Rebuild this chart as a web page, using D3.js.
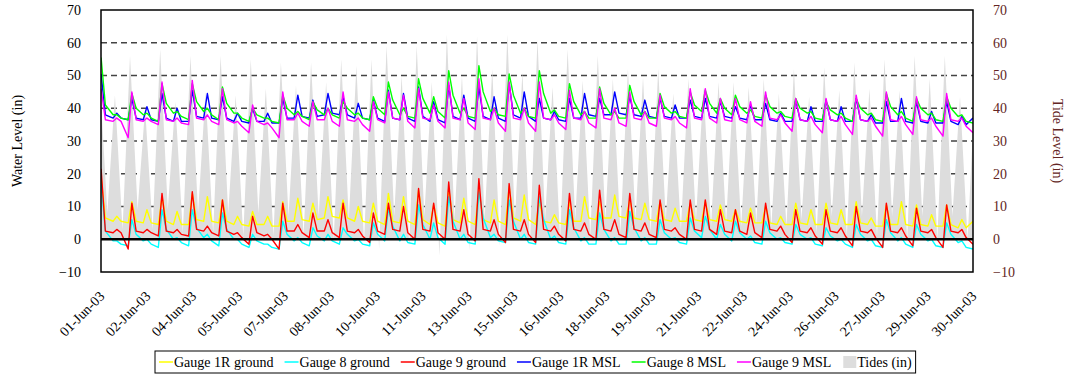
<!DOCTYPE html>
<html>
<head>
<meta charset="utf-8">
<script src="https://cdn.jsdelivr.net/npm/d3@7"></script>
<style>
    html, body { margin: 0; padding: 0; background: #fff; }
    svg, svg text { font-family: "Liberation Serif", "Times New Roman", serif; }
</style>
</head>
<body>
<svg id="chart" width="1068" height="376"></svg>
<script>
// All times are hours after 01-Jun-03 00:00
const xDomainHours = [1.43, 712.8];
const xTickLabels = ["01-Jun-03", "02-Jun-03", "04-Jun-03", "05-Jun-03", "07-Jun-03", "08-Jun-03",
    "10-Jun-03", "11-Jun-03", "13-Jun-03", "15-Jun-03", "16-Jun-03", "18-Jun-03", "19-Jun-03",
    "21-Jun-03", "22-Jun-03", "24-Jun-03", "26-Jun-03", "27-Jun-03", "29-Jun-03", "30-Jun-03"];
const yTicks = [-10, 0, 10, 20, 30, 40, 50, 60, 70];

const tideHours = [1.5, 6.6,
    12.8, 19.0, 25.1, 31.3, 37.4, 43.6, 49.7, 55.9, 62.0, 68.2, 74.4, 80.6, 86.7, 92.9,
    99.0, 105.2, 111.3, 117.5, 123.6, 129.8, 135.9, 142.1, 148.2, 154.4, 160.5, 166.7,
    172.8, 179.0, 185.1, 191.3, 197.4, 203.6, 209.8, 216.0, 222.1, 228.3, 234.4, 240.6,
    246.7, 252.9, 259.0, 265.2, 271.3, 277.5, 283.6, 289.8, 295.9, 302.1, 308.2, 314.4,
    320.6, 326.8, 332.9, 339.1, 345.2, 351.4, 357.5, 363.7, 369.8, 376.0, 382.1, 388.3,
    394.4, 400.6, 406.7, 412.9, 419.0, 425.2, 431.3, 437.5, 443.6, 449.8, 456.0, 462.2,
    468.3, 474.5, 480.6, 486.8, 492.9, 499.1, 505.2, 511.4, 517.5, 523.7, 529.8, 536.0,
    542.1, 548.3, 554.4, 560.6, 566.7, 572.9, 579.1, 585.3, 591.4, 597.6, 603.7, 609.9,
    616.0, 622.2, 628.3, 634.5, 640.6, 646.8, 652.9, 659.1, 665.2, 671.4, 677.5, 683.7,
    689.8, 696.0, 702.2, 708.4, 714.5];
const tideLevels = [42, 8,
    44, 3, 56, 9, 40, 3, 58, 9, 42, 2, 56, 8, 45, 2,
    56, 8, 44, 1, 55, 8, 46, 1, 54, 7, 47, 1,
    54, 7, 48, 0, 55, 6, 53, -1, 55, -3, 59, 7,
    50, -2, 59, 7, 48, -5, 62.5, 6, 50, -3.5, 62, 6,
    52, -2, 62.5, 6, 51, -1, 61, 6, 46.5, 0, 58, 6,
    48.5, 1, 56, 6, 49, 2, 52, 6, 49.5, 2, 52, 6,
    44.5, 3, 49, 6, 46.5, 4, 48, 5, 48, 4, 46.5, 5,
    49, 4, 44.5, 4, 52, 6, 43.5, 2, 52.5, 7, 45.5, 1,
    54, 7, 46, 1, 55, 7, 45.5, 0, 56, 7, 49, 0,
    56, 7, 43.5, 0, 47];

const gaugeHours = [1.5, 5.0,
    11.3, 14.3, 17.8, 23.6, 26.6, 30.1, 35.9, 38.9, 42.4, 48.2, 51.2, 54.7,
    60.5, 63.5, 67.0, 72.9, 75.9, 79.4, 85.2, 88.2, 91.7, 97.5, 100.5, 104.0,
    109.8, 112.8, 116.3, 122.1, 125.1, 128.6, 134.4, 137.4, 140.9, 146.7, 149.7, 153.2,
    159.0, 162.0, 165.5, 171.3, 174.3, 177.8, 183.6, 186.6, 190.1, 195.9, 198.9, 202.4,
    208.3, 211.3, 214.8, 220.6, 223.6, 227.1, 232.9, 235.9, 239.4, 245.2, 248.2, 251.7,
    257.5, 260.5, 264.0, 269.8, 272.8, 276.3, 282.1, 285.1, 288.6, 294.4, 297.4, 300.9,
    306.7, 309.7, 313.2, 319.1, 322.1, 325.6, 331.4, 334.4, 337.9, 343.7, 346.7, 350.2,
    356.0, 359.0, 362.5, 368.3, 371.3, 374.8, 380.6, 383.6, 387.1, 392.9, 395.9, 399.4,
    405.2, 408.2, 411.7, 417.5, 420.5, 424.0, 429.8, 432.8, 436.3, 442.1, 445.1, 448.6,
    454.5, 457.5, 461.0, 466.8, 469.8, 473.3, 479.1, 482.1, 485.6, 491.4, 494.4, 497.9,
    503.7, 506.7, 510.2, 516.0, 519.0, 522.5, 528.3, 531.3, 534.8, 540.6, 543.6, 547.1,
    552.9, 555.9, 559.4, 565.2, 568.2, 571.7, 577.6, 580.6, 584.1, 589.9, 592.9, 596.4,
    602.2, 605.2, 608.7, 614.5, 617.5, 621.0, 626.8, 629.8, 633.3, 639.1, 642.1, 645.6,
    651.4, 654.4, 657.9, 663.7, 666.7, 670.2, 676.0, 679.0, 682.5, 688.3, 691.3, 694.8,
    700.7, 703.7, 707.2, 712.8];

const gauge1RGround = [19, 6.5,
    5.5, 7, 5.5, 5, 11.5, 5.5, 5, 9, 5, 4.5, 13, 5.5,
    4.5, 8.5, 4.5, 4.5, 14, 6, 5.5, 13, 5.5, 5, 12, 5.5,
    4.5, 7, 4.5, 4, 8.5, 4.5, 4.5, 7, 4, 4, 11.5, 5.5,
    5.5, 12.5, 6, 5.5, 11, 6, 6.5, 13, 7, 6.5, 12, 6.5,
    5.5, 10, 5.5, 5, 11, 5.5, 4.5, 14, 5.5, 5, 13, 5.5,
    4.5, 15, 6, 4.5, 10.5, 5, 4, 15.5, 6, 5, 12.5, 5.5,
    4.5, 15, 6, 5, 12, 5.5, 4.5, 16, 6.5, 5.5, 13.5, 6,
    4.5, 11.5, 5.5, 5, 7.5, 5, 4.5, 11.5, 5.5, 5.5, 13, 6.5,
    6, 11.5, 6.5, 6.5, 13.5, 7, 6.5, 12, 6.5, 6, 11, 6,
    5.5, 11.5, 6, 5.5, 9.5, 5.5, 5.5, 11, 6, 5.5, 11.5, 6,
    5.5, 10.5, 6, 5.5, 9, 5.5, 5, 9.5, 5, 5, 10, 5,
    4.5, 7, 4.5, 4.5, 11, 5, 4.5, 9, 4.5, 4.5, 11, 5,
    4.5, 9, 4.5, 4.5, 11.5, 5, 4.5, 6.5, 4, 4, 10.5, 4.5,
    4.5, 11.5, 4.5, 4, 10.5, 4.5, 4, 7.5, 4, 4, 10.5, 4.5,
    3.5, 6, 3.5, 5.5];

const gauge8Ground = [17, 2.5,
    -0.5, -0.5, -1.5, -2, 6, 1.5, -0.5, 0, -1.5, -2.5, 9, 3,
    0, 0.5, -1, -2, 9, 3.5, 0.5, 1.5, -0.5, -2, 8, 3,
    0, 0, -1.5, -2.5, 1.5, -0.5, -1.5, -1.5, -2.5, -3, 5.5, 1.5,
    -0.5, 0.5, -1, -2, 3.5, 1, -0.5, 1.5, -0.5, -1.5, 3.5, 1.5,
    -0.5, 0, -1.5, -2, 5, 1.5, -0.5, 9.5, 4, -0.5, 1.5, -1,
    -1.5, 10.5, 4.5, 0, 5, 0.5, -1.5, 13, 5.5, 0, 1.5, -1,
    -1.5, 14.5, 6.5, 0.5, 1.5, -0.5, -1, 12, 5.5, 0, 1.5, -1,
    -1.5, 13, 6, 0, 1, -1, -1.5, 9, 3.5, -0.5, 0.5, -1.5,
    -1.5, 8, 3, -0.5, 0.5, -1.5, -1.5, 8.5, 3.5, -0.5, 0.5, -1.5,
    -1.5, 6, 2, 0, 0.5, -1, -1.5, 6.5, 2.5, 0.5, 7, 3,
    0, 4.5, 1.5, -0.5, 5.5, 2, 0, 1, -1, -1.5, 5.5, 2,
    0, 0.5, -1, -1.5, 4.5, 1.5, 0, 0.5, -1.5, -2, 3.5, 1,
    -0.5, 0, -1.5, -2.5, 4.5, 1.5, -0.5, 0, -2, -2.5, 6, 2,
    -0.5, 0.5, -1.5, -2.5, 4.5, 1.5, -0.5, 0, -2, -2.5, 5, 1.5,
    -1, -0.5, -2.5, -3];

const gauge9Ground = [21.5, 2.5,
    2, 3, 2, -3, 11, 2.5, 2, 3, 2, 1, 14, 2.5,
    2, 3, 1.5, 1, 14.5, 3, 2.5, 4, 2, 1, 12, 2.5,
    1.5, 2, 0.5, -1.5, 7, 2, 1, 1.5, 0, -3, 11, 2.5,
    2.5, 4.5, 2, 0.5, 8, 2.5, 2.5, 6, 2, 0.5, 11, 2.5,
    2, 3, 1, -1, 8, 2.5, 1.5, 11, 3, 2.5, 10, 2,
    0, 15.5, 3, 2.5, 11, 2, 0, 17.5, 3, 2.5, 9, 1.5,
    -0.5, 18.5, 3, 2.5, 6, 1.5, -1, 17, 3, 2.5, 6, 1.5,
    -1, 16.5, 3, 2.5, 4, 1.5, -0.5, 14, 3, 2.5, 5, 1.5,
    0, 15, 3, 2.5, 6, 1.5, 0.5, 14, 3, 2.5, 5, 1.5,
    0.5, 12, 3, 2.5, 3.5, 1.5, 0, 12, 3, 2.5, 12, 3,
    1.5, 9, 2.5, 2, 9, 2.5, 1.5, 8, 2, 0.5, 11, 3,
    2.5, 4, 1.5, -1, 9, 2.5, 2, 3.5, 1, -1.5, 9, 2.5,
    2, 3.5, 1, -2, 10, 2.5, 2, 3, 0.5, -2.5, 11, 2.5,
    2, 3.5, 1, -2, 9.5, 2.5, 2, 3, 0.5, -2.5, 10.5, 2.5,
    2, 3, 0.5, -1.5];

const gauge1RMsl = [50.5, 38,
    37, 38.5, 37, 36.5, 43, 37, 36.5, 40.5, 36.5, 36, 44.5, 37,
    36, 40, 36, 36, 45.5, 37.5, 37, 44.5, 37, 36.5, 43.5, 37,
    36, 38.5, 36, 35.5, 40, 36, 36, 38.5, 35.5, 35.5, 43, 37,
    37, 44, 37.5, 37, 42.5, 37.5, 38, 44.5, 38.5, 38, 43.5, 38,
    37, 41.5, 37, 36.5, 42.5, 37, 36, 45.5, 37, 36.5, 44.5, 37,
    36, 46.5, 37.5, 36, 42, 36.5, 35.5, 47, 37.5, 36.5, 44, 37,
    36, 46.5, 37.5, 36.5, 43.5, 37, 36, 47.5, 38, 37, 45, 37.5,
    36, 43, 37, 36.5, 39, 36.5, 36, 43, 37, 37, 44.5, 38,
    37.5, 43, 38, 38, 45, 38.5, 38, 43.5, 38, 37.5, 42.5, 37.5,
    37, 43, 37.5, 37, 41, 37, 37, 42.5, 37.5, 37, 43, 37.5,
    37, 42, 37.5, 37, 40.5, 37, 36.5, 41, 36.5, 36.5, 41.5, 36.5,
    36, 38.5, 36, 36, 42.5, 36.5, 36, 40.5, 36, 36, 42.5, 36.5,
    36, 40.5, 36, 36, 43, 36.5, 36, 38, 35.5, 35.5, 42, 36,
    36, 43, 36, 35.5, 42, 36, 35.5, 39, 35.5, 35.5, 42, 36,
    35, 37.5, 35, 37];

const gauge8Msl = [55.5, 41,
    38, 38, 37, 36.5, 44.5, 40, 38, 38.5, 37, 36, 47.5, 41.5,
    38.5, 39, 37.5, 36.5, 47.5, 42, 39, 40, 38, 36.5, 46.5, 41.5,
    38.5, 38.5, 37, 36, 40, 38, 37, 37, 36, 35.5, 44, 40,
    38, 39, 37.5, 36.5, 42, 39.5, 38, 40, 38, 37, 42, 40,
    38, 38.5, 37, 36.5, 43.5, 40, 38, 48, 42.5, 38, 40, 37.5,
    37, 49, 43, 38.5, 43.5, 39, 37, 51.5, 44, 38.5, 40, 37.5,
    37, 53, 45, 39, 40, 38, 37.5, 50.5, 44, 38.5, 40, 37.5,
    37, 51.5, 44.5, 38.5, 39.5, 37.5, 37, 47.5, 42, 38, 39, 37,
    37, 46.5, 41.5, 38, 39, 37, 37, 47, 42, 38, 39, 37,
    37, 44.5, 40.5, 38.5, 39, 37.5, 37, 45, 41, 39, 45.5, 41.5,
    38.5, 43, 40, 38, 44, 40.5, 38.5, 39.5, 37.5, 37, 44, 40.5,
    38.5, 39, 37.5, 37, 43, 40, 38.5, 39, 37, 36.5, 42, 39.5,
    38, 38.5, 37, 36, 43, 40, 38, 38.5, 36.5, 36, 44.5, 40.5,
    38, 39, 37, 36, 43, 40, 38, 38.5, 36.5, 36, 43.5, 40,
    37.5, 38, 36, 35.5];

const gauge9Msl = [46, 36.5,
    36, 37, 36, 31, 45, 36.5, 36, 37, 36, 35, 48, 36.5,
    36, 37, 35.5, 35, 48.5, 37, 36.5, 38, 36, 35, 46, 36.5,
    35.5, 36, 34.5, 32.5, 41, 36, 35, 35.5, 34, 31, 45, 36.5,
    36.5, 38.5, 36, 34.5, 42, 36.5, 36.5, 40, 36, 34.5, 45, 36.5,
    36, 37, 35, 33, 42, 36.5, 35.5, 45, 37, 36.5, 44, 36,
    34, 46, 37, 36.5, 41, 36, 34, 48, 37, 36.5, 43, 35.5,
    33.5, 49, 37, 36.5, 40, 35.5, 33, 48, 37, 36.5, 40, 35.5,
    33, 48, 37, 36.5, 38, 35.5, 33.5, 45.5, 37, 36.5, 39, 35.5,
    34, 46, 37, 36.5, 40, 35.5, 34.5, 45, 37, 36.5, 39, 35.5,
    34.5, 44, 37, 36.5, 37.5, 35.5, 34, 46, 37, 36.5, 46, 37,
    35.5, 43, 36.5, 36, 43, 36.5, 35.5, 42, 36, 34.5, 45, 37,
    36.5, 38, 35.5, 33, 43, 36.5, 36, 37.5, 35, 32.5, 43, 36.5,
    36, 37.5, 35, 32, 44, 36.5, 36, 37, 34.5, 31.5, 45, 36.5,
    36, 37.5, 35, 32, 43.5, 36.5, 36, 37, 34.5, 31.5, 44.5, 36.5,
    36, 37, 34.5, 32.5];

const gaugeSeries = [
    {name: "Gauge 1R ground", color: "#ffff00", values: gauge1RGround},
    {name: "Gauge 8 ground", color: "#00ffff", values: gauge8Ground},
    {name: "Gauge 9 ground", color: "#ff0000", values: gauge9Ground},
    {name: "Gauge 1R MSL", color: "#0000ff", values: gauge1RMsl},
    {name: "Gauge 8 MSL", color: "#00ff00", values: gauge8Msl},
    {name: "Gauge 9 MSL", color: "#ff00ff", values: gauge9Msl}
];

const tideColor = "#dddddd";
const tideAxisColor = "#632523";
const fontFamily = "'Liberation Serif', 'Times New Roman', serif";

const svg = d3.select("#chart");
const margin = {top: 10, right: 95, bottom: 104, left: 101};
const width = 1068 - margin.left - margin.right;
const height = 376 - margin.top - margin.bottom;

const toDate = h => new Date(Date.UTC(2003, 5, 1) + h * 3600e3);

const x = d3.scaleUtc()
    .domain(xDomainHours.map(toDate))
    .range([0, width]);
const y = d3.scaleLinear().domain([-10, 70]).range([height, 0]);
const y2 = d3.scaleLinear().domain([-10, 70]).range([height, 0]);

const g = svg.append("g")
    .attr("transform", "translate(" + margin.left + "," + margin.top + ")");

svg.append("defs").append("clipPath")
    .attr("id", "plot-clip")
    .append("rect")
    .attr("width", width)
    .attr("height", height);

// dashed gridlines sit behind the tide area
g.append("g")
    .selectAll("line")
    .data(yTicks.filter(v => v > 0 && v < 70))
    .join("line")
    .attr("x1", 0)
    .attr("x2", width)
    .attr("y1", d => y(d))
    .attr("y2", d => y(d))
    .attr("stroke", "#444")
    .attr("stroke-width", 1.3)
    .attr("stroke-dasharray", "6,4");

const plot = g.append("g").attr("clip-path", "url(#plot-clip)");

const tideData = tideHours.map((h, i) => ({h: h, v: tideLevels[i]}));

plot.append("path")
    .datum(tideData)
    .attr("fill", tideColor)
    .attr("d", d3.area()
        .x(d => x(toDate(d.h)))
        .y0(y2(0))
        .y1(d => y2(d.v)));

g.append("line")
    .attr("x1", 0)
    .attr("x2", width)
    .attr("y1", y(0))
    .attr("y2", y(0))
    .attr("stroke", "#000")
    .attr("stroke-width", 2.5);

const line = d3.line()
    .x(d => x(toDate(d.h)))
    .y(d => y(d.v));

gaugeSeries.forEach(s => {
    plot.append("path")
        .datum(gaugeHours.map((h, i) => ({h: h, v: s.values[i]})))
        .attr("fill", "none")
        .attr("stroke", s.color)
        .attr("stroke-width", 1.4)
        .attr("stroke-linejoin", "round")
        .attr("d", line);
});

g.append("rect")
    .attr("width", width)
    .attr("height", height)
    .attr("fill", "none")
    .attr("stroke", "#000")
    .attr("stroke-width", 1.5);

// axes
function styleAxisText(axisG, color) {
    axisG.attr("font-family", null).attr("font-size", null);
    axisG.selectAll("text")
        .style("font-family", fontFamily)
        .style("font-size", "14px")
        .attr("fill", color);
}

const leftAxis = g.append("g")
    .call(d3.axisLeft(y).tickValues(yTicks).tickSize(0).tickPadding(20));
leftAxis.select(".domain").remove();
styleAxisText(leftAxis, "#000");

const rightAxis = g.append("g")
    .attr("transform", "translate(" + width + ",0)")
    .call(d3.axisRight(y2).tickValues(yTicks).tickSize(0).tickPadding(20));
rightAxis.select(".domain").remove();
styleAxisText(rightAxis, tideAxisColor);

const t0 = x.domain()[0].getTime();
const t1 = x.domain()[1].getTime();
const tickDates = xTickLabels.map((d, i) => new Date(t0 + i * (t1 - t0) / (xTickLabels.length - 1)));

const bottomAxis = g.append("g")
    .attr("transform", "translate(0," + height + ")")
    .call(d3.axisBottom(x).tickValues(tickDates).tickSize(0)
        .tickFormat((d, i) => xTickLabels[i]));
bottomAxis.select(".domain").remove();
styleAxisText(bottomAxis, "#000");
bottomAxis.selectAll("text")
    .attr("y", 0)
    .attr("dy", 0)
    .attr("text-anchor", "end")
    .attr("transform", "translate(4,25) rotate(-45)");

svg.append("text")
    .attr("transform", "translate(22," + (margin.top + height / 2) + ") rotate(-90)")
    .attr("text-anchor", "middle")
    .style("font-family", fontFamily)
    .style("font-size", "14px")
    .text("Water Level (in)");

svg.append("text")
    .attr("transform", "translate(1053," + (margin.top + height / 2) + ") rotate(90)")
    .attr("text-anchor", "middle")
    .style("font-family", fontFamily)
    .style("font-size", "14px")
    .attr("fill", tideAxisColor)
    .text("Tide Level (in)");

// legend
const legend = svg.append("g");
const legendBox = legend.append("rect")
    .attr("y", 351)
    .attr("height", 22)
    .attr("fill", "#fff")
    .attr("stroke", "#000")
    .attr("stroke-width", 1);

const legendItems = gaugeSeries.concat([{name: "Tides (in)", color: tideColor, area: true}]);
let lx = 159;
const legendY = 362;
legendItems.forEach(item => {
    if (item.area) {
        legend.append("rect")
            .attr("x", lx + 1)
            .attr("y", legendY - 6)
            .attr("width", 13)
            .attr("height", 12)
            .attr("fill", item.color);
    } else {
        legend.append("line")
            .attr("x1", lx)
            .attr("x2", lx + 14)
            .attr("y1", legendY)
            .attr("y2", legendY)
            .attr("stroke", item.color)
            .attr("stroke-width", 1.5);
    }
    const label = legend.append("text")
        .attr("x", lx + 15)
        .attr("y", legendY)
        .attr("dy", "0.35em")
        .style("font-family", fontFamily)
        .style("font-size", "14px")
        .text(item.name);
    lx += 15 + label.node().getComputedTextLength() + 11;
});
legendBox
    .attr("x", 155)
    .attr("width", lx - 11 + 4 - 155);
</script>
</body>
</html>
